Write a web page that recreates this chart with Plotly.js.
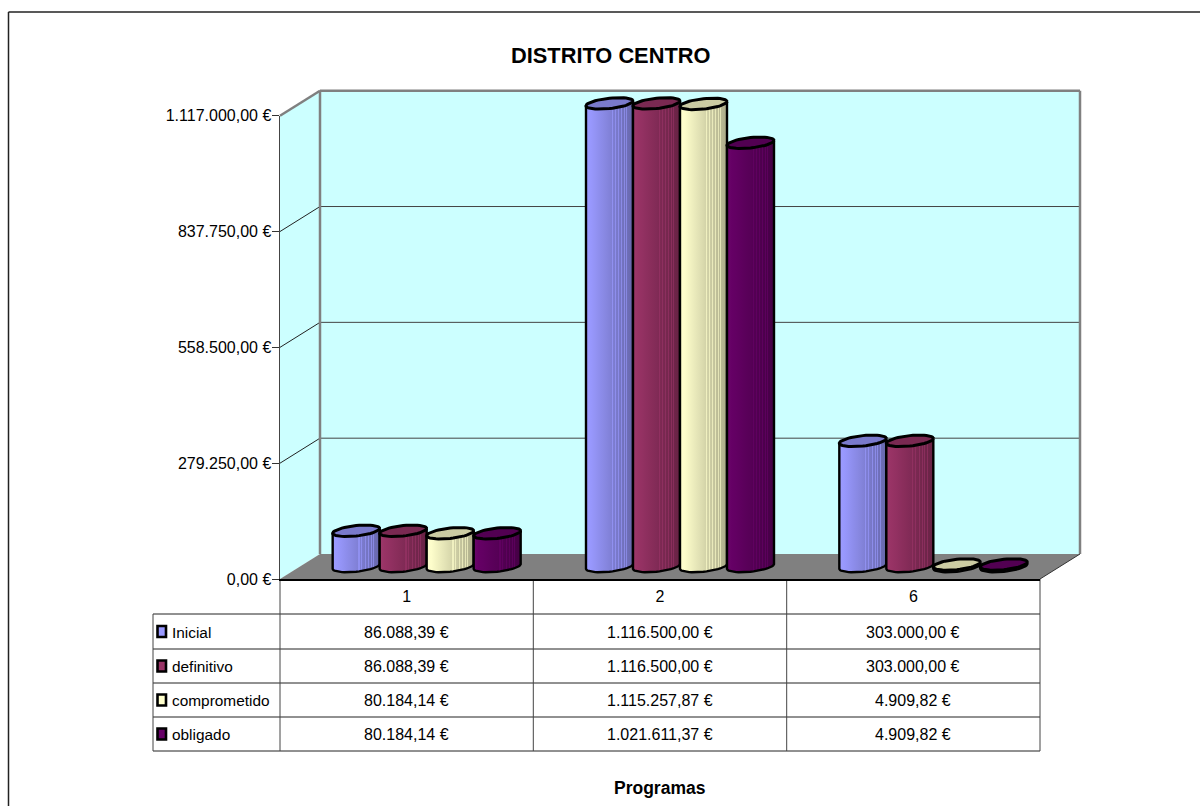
<!DOCTYPE html>
<html>
<head>
<meta charset="utf-8">
<script src="https://cdn.plot.ly/plotly-3.0.1.min.js"></script>
<style>html,body{margin:0;padding:0;background:#fff;overflow:hidden}#c{width:1200px;height:806px}</style>
</head>
<body>
<div id="c"></div>
<script>
// ---- data ----
const chartTitle = 'DISTRITO CENTRO';
const xTitle = 'Programas';
const programas = ['1', '2', '6'];
const seriesNames = ['Inicial', 'definitivo', 'comprometido', 'obligado'];
const inicial = [86088.39, 1116500.00, 303000.00];
const definitivo = [86088.39, 1116500.00, 303000.00];
const comprometido = [80184.14, 1115257.87, 4909.82];
const obligado = [80184.14, 1021611.37, 4909.82];
const yTicks = [0, 279250, 558500, 837750, 1117000];
const yMax = 1117000;
const seriesColors = ['#9999FF', '#993366', '#FFFFCC', '#660066'];

// ---- layout constants (pixels) ----
const W = 1200, H = 806;
const FX0 = 280, FX1 = 1040, FY0 = 579, FY1 = 115.7;   // front plane
const DX = 40, DY = 25;                                 // depth of the box
const BDX = 20, BDY = 12.5;                             // depth of the bars
const RX = 23.5, RY = 5.2, TILT = 2.4;                  // cylinder ends
const SLOT = 47, PAD = 20;

const px = x => x / W, py = y => 1 - y / H;
const eur = v => v.toLocaleString('de-DE', {minimumFractionDigits: 2, maximumFractionDigits: 2}) + ' €';
const allSeries = [inicial, definitivo, comprometido, obligado];
const fontFam = '"Liberation Sans", Arial, sans-serif';

const unitX = (FX1 - FX0) / 3;                 // px per category
const unitY = (FY0 - FY1) / yMax;              // px per value unit
const dX = p => p / unitX, dY = p => p / unitY;
const FS = 16;

function shade(hex, f) {
  const n = parseInt(hex.slice(1), 16);
  const c = [n >> 16 & 255, n >> 8 & 255, n & 255].map(v => Math.max(0, Math.min(255, Math.round(f >= 1 ? v + (255 - v) * (f - 1) : v * f))));
  return `rgb(${c[0]},${c[1]},${c[2]})`;
}
const stripes = [.56, .62, .7, .76, .82, .87];
function bodyScale(hex) {
  const base = t => shade(hex, 1.03 - .36 * t);
  const stops = [[0, base(0)]];
  [.1, .2, .3, .4, .5].forEach(t => stops.push([t, base(t)]));
  stripes.forEach(s => {
    const hi = shade(hex, 1.03 - .16 * s);
    stops.push([s - .011, base(s)]);
    stops.push([s - .011, hi]);
    stops.push([s + .011, hi]);
    stops.push([s + .011, base(s)]);
  });
  stops.push([1, base(1)]);
  return stops;
}

const traces = [];
// empty trace that keeps the front-plane axes on the page
traces.push({type: 'scatter', mode: 'none', x: [0], y: [0], xaxis: 'x', yaxis: 'y', showlegend: false, hoverinfo: 'skip'});
// the bars proper
allSeries.forEach((vals, j) => {
  traces.push({type: 'bar', name: seriesNames[j], x: [0, 1, 2], y: vals, xaxis: 'x2', yaxis: 'y2',
    marker: {color: seriesColors[j], line: {width: 0}}, showlegend: false, hoverinfo: 'skip'});
});
// cylinder bodies and caps, computed from the same values
programas.forEach((p, i) => {
  allSeries.forEach((vals, j) => {
    const cx = i + (j - 1.5) * dX(SLOT), v = vals[i];
    const xs = [cx - dX(RX), cx + dX(RX)], ys = [v - dY(TILT), v + dY(TILT)];
    for (let k = 0; k <= 24; k++) {
      const t = -Math.PI * k / 24;
      xs.push(cx + dX(RX * Math.cos(t)));
      ys.push(dY(RY * Math.sin(t) + TILT * Math.cos(t)));
    }
    xs.push(xs[0]); ys.push(ys[0]);
    traces.push({type: 'scatter', mode: 'lines', x: xs, y: ys, xaxis: 'x2', yaxis: 'y2', fill: 'toself',
      fillgradient: {type: 'horizontal', colorscale: bodyScale(seriesColors[j])},
      line: {color: '#000', width: 2.4}, showlegend: false, hoverinfo: 'skip'});
    const cxs = [], cys = [];
    for (let k = 0; k <= 48; k++) {
      const t = 2 * Math.PI * k / 48;
      cxs.push(cx + dX(RX * Math.cos(t)));
      cys.push(v + dY(RY * Math.sin(t) + TILT * Math.cos(t)));
    }
    traces.push({type: 'scatter', mode: 'lines', x: cxs, y: cys, xaxis: 'x2', yaxis: 'y2', fill: 'toself',
      fillcolor: shade(seriesColors[j], .8), line: {color: '#000', width: 3}, showlegend: false, hoverinfo: 'skip'});
  });
});

// ---- box, grid, table ----
const poly = (pts, fill, line, lw, layer) => ({type: 'path', xref: 'paper', yref: 'paper', layer: layer || 'below',
  path: 'M' + pts.map(q => px(q[0]) + ',' + py(q[1])).join('L') + 'Z', fillcolor: fill, line: {color: line, width: lw}});
const seg = (x0, y0, x1, y1, color, lw, layer) => ({type: 'line', xref: 'paper', yref: 'paper', layer: layer || 'below',
  x0: px(x0), y0: py(y0), x1: px(x1), y1: py(y1), line: {color: color, width: lw}});

const shapes = [];
shapes.push(poly([[FX0 + DX, FY1 - DY], [FX1 + DX, FY1 - DY], [FX1 + DX, FY0 - DY], [FX0 + DX, FY0 - DY]], '#CCFFFF', 'rgba(0,0,0,0)', 0));
shapes.push(poly([[FX0, FY1], [FX0 + DX, FY1 - DY], [FX0 + DX, FY0 - DY], [FX0, FY0]], '#CCFFFF', 'rgba(0,0,0,0)', 0));
shapes.push(poly([[FX0, FY0], [FX0 + DX, FY0 - DY], [FX1 + DX, FY0 - DY], [FX1, FY0]], '#808080', 'rgba(0,0,0,0)', 0));
yTicks.forEach(t => {
  const y = FY0 - t * unitY;
  if (t > 0 && t < yMax) {
    shapes.push(seg(FX0, y, FX0 + DX, y - DY, '#222', 1));
    shapes.push(seg(FX0 + DX, y - DY, FX1 + DX, y - DY, '#444', 1));
  }
});
shapes.push(seg(FX0, FY1, FX0 + DX, FY1 - DY, '#808080', 2.5));
shapes.push(seg(FX0 + DX, FY1 - DY, FX1 + DX, FY1 - DY, '#808080', 2.5));
shapes.push(seg(FX0 + DX, FY1 - DY, FX0 + DX, FY0 - DY, '#808080', 2.5));
shapes.push(seg(FX1 + DX, FY1 - DY, FX1 + DX, FY0 - DY, '#808080', 2.5));
shapes.push(seg(FX1, FY0, FX1 + DX, FY0 - DY, '#333', 1));
// outer frame
shapes.push(seg(8.5, 12, 1200, 12, '#222', 1.5));
shapes.push(seg(8.5, 12, 8.5, 806, '#222', 1.5));
// data table
const rowY = [FY0, 614, 649, 683, 717, 751];
const colX = [FX0, 533.3, 786.7, FX1];
rowY.forEach((y, r) => { if (r > 0) shapes.push(seg(153, y, FX1, y, '#222', 1)); });
colX.forEach(x => shapes.push(seg(x, FY0, x, rowY[5], '#444', 1)));
shapes.push(seg(153, rowY[1], 153, rowY[5], '#444', 1));

const annotations = [];
const txt = (x, y, text, o) => annotations.push(Object.assign({xref: 'paper', yref: 'paper', x: px(x), y: py(y), text: text,
  showarrow: false, xanchor: 'center', yanchor: 'middle', borderpad: 0,
  font: {family: fontFam, size: FS, color: '#000'}}, o || {}));
txt(610.5, 55, chartTitle, {font: {family: fontFam, size: 21.8, color: '#000', weight: 700}});
txt(659.5, 788, xTitle, {font: {family: fontFam, size: 17.5, color: '#000', weight: 700}});
seriesNames.forEach((name, j) => {
  const yc = (rowY[j + 1] + rowY[j + 2]) / 2;
  txt(171, yc + 0.5, name, {xanchor: 'left', font: {family: fontFam, size: 15.4, color: '#000'}});
  shapes.push(poly([[157.5, yc - 5.5], [166, yc - 5.5], [166, yc + 5.5], [157.5, yc + 5.5]], seriesColors[j], '#000', 2.6, 'above'));
  allSeries[j].forEach((v, i) => txt((colX[i] + colX[i + 1]) / 2, yc + 0.5, eur(v)));
});

const layout = {
  width: W, height: H, margin: {l: 0, r: 0, t: 0, b: 0, pad: 0},
  paper_bgcolor: '#fff', plot_bgcolor: 'rgba(0,0,0,0)', showlegend: false, hovermode: false,
  barmode: 'group', bargap: 1 - 4 * SLOT / unitX, bargroupgap: .15,
  font: {family: fontFam, size: FS, color: '#000'},
  xaxis: {domain: [px(FX0), px(FX1)], range: [-.5, 2.5], tickvals: [0, 1, 2], ticktext: programas, anchor: 'y',
    showgrid: false, zeroline: false, showline: true, linecolor: '#000', linewidth: 2, ticks: '', ticklabelstandoff: 2,
    tickfont: {family: fontFam, size: FS, color: '#000'}},
  yaxis: {domain: [py(FY0), py(FY1)], range: [0, yMax], tickvals: yTicks, ticktext: yTicks.map(eur), anchor: 'x',
    showgrid: false, zeroline: false, showline: true, linecolor: '#444', linewidth: 1.5, ticks: 'outside', ticklen: 7, tickcolor: '#333', tickwidth: 1, ticklabelstandoff: -3,
    tickfont: {family: fontFam, size: FS, color: '#000'}},
  xaxis2: {domain: [px(FX0 + BDX), px(FX1 + BDX)], range: [-.5, 2.5], visible: false, anchor: 'y2'},
  yaxis2: {domain: [py(FY0 - BDY + PAD), py(FY1 - BDY - PAD)], range: [-dY(PAD), yMax + dY(PAD)], visible: false, anchor: 'x2'},
  shapes: shapes, annotations: annotations
};
Plotly.newPlot('c', traces, layout, {displayModeBar: false, staticPlot: true});
</script>
</body>
</html>
